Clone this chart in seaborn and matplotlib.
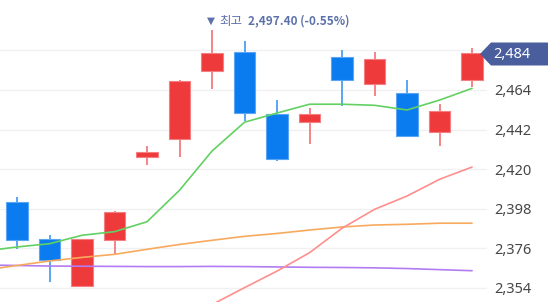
import numpy as np
import pandas as pd
import seaborn as sns
import matplotlib
matplotlib.use("Agg")
import matplotlib.pyplot as plt
from matplotlib.patches import Polygon

# ---- data ----
idx = list(range(15))
opens  = [2401.8, 2381.1, 2355.2, 2380.5, 2426.8, 2436.6, 2474.7, 2485.3, 2450.5, 2446.4, 2482.2, 2467.2, 2462.2, 2440.5, 2469.6]
closes = [2380.7, 2369.4, 2381.1, 2396.2, 2429.6, 2469.2, 2484.7, 2451.1, 2425.7, 2450.5, 2469.6, 2481.1, 2438.6, 2452.3, 2484.4]
highs  = [2404.6, 2383.4, 2381.1, 2396.8, 2432.9, 2469.5, 2497.4, 2491.4, 2458.4, 2453.8, 2486.2, 2485.3, 2469.6, 2456.2, 2487.5]
lows   = [2375.7, 2357.5, 2355.2, 2373.1, 2422.3, 2426.8, 2464.7, 2447.0, 2424.6, 2434.0, 2455.1, 2460.7, 2438.1, 2433.1, 2465.5]

ma_idx = list(range(-1, 15))
ma_green  = [2374.5, 2376.8, 2378.6, 2383.3, 2385.3, 2390.8, 2408.3, 2430.1, 2446.1, 2451.2, 2456.1, 2456.1, 2455.5, 2452.9, 2458.4, 2464.9]
ma_orange = [2364.0, 2366.5, 2369.0, 2371.0, 2372.7, 2375.5, 2378.2, 2380.5, 2382.7, 2384.3, 2386.2, 2387.9, 2389.0, 2389.4, 2390.0, 2390.0]
ma_purple = [2366.8, 2366.5, 2366.2, 2366.1, 2366.0, 2365.9, 2365.9, 2366.0, 2365.9, 2365.7, 2365.5, 2365.4, 2365.2, 2364.8, 2364.2, 2363.6]
ma_salmon = [np.nan]*7 + [2344.8, 2354.2, 2363.4, 2373.6, 2387.2, 2397.7, 2405.1, 2414.4, 2421.2]

y_ticks = [2354, 2376, 2398, 2420, 2442, 2464, 2486]
y_labels = ["2,354", "2,376", "2,398", "2,420", "2,442", "2,464", ""]
last_price = 2484
last_label = "2,484"
high_label = "최고"
high_text = "2,497.40 (-0.55%)"

# ---- style ----
sns.set_theme(style="white")
plt.rcParams['font.family'] = ['Noto Sans', 'DejaVu Sans']

W, H = 548, 302
fig = plt.figure(figsize=(W/100, H/100), dpi=100)
ax = fig.add_axes([0, 0, 487/W, 1])

RED, BLUE = "#EF3A3C", "#0A7CEF"
RED_W, BLUE_W = "#F27C7E", "#4C9FF2"

up = [c >= o for o, c in zip(opens, closes)]
body_col = [RED if u else BLUE for u in up]
wick_col = [RED_W if u else BLUE_W for u in up]
edge_col = ["#F47F80" if u else "#5AA6F4" for u in up]

ax.vlines(idx, lows, highs, colors=wick_col, linewidth=1.3, zorder=2)
ax.bar(idx, [abs(c - o) for o, c in zip(opens, closes)],
       bottom=[min(o, c) for o, c in zip(opens, closes)],
       width=0.65, color=body_col, edgecolor=edge_col, linewidth=0.8, zorder=3)

ma = pd.DataFrame({"i": ma_idx, "green": ma_green, "orange": ma_orange,
                   "purple": ma_purple, "salmon": ma_salmon})
for col, c in [("purple", "#B27CF2"), ("orange", "#F7AA5E"),
               ("salmon", "#FF8E8E"), ("green", "#62D162")]:
    sns.lineplot(data=ma, x="i", y=col, color=c, linewidth=1.2, ax=ax,
                 legend=False, zorder=4)

ax.set_xlim(-0.523, 14.46)
ax.set_ylim(2464 - 212/1.8, 2464 + 90/1.8)
ax.set_yticks(y_ticks)
ax.set_yticklabels(y_labels)
ax.yaxis.tick_right()
ax.tick_params(axis="y", length=0, pad=5, labelsize=10.5, labelcolor="#474747")
ax.set_xticks([])
ax.set_xlabel("")
ax.set_ylabel("")
for s in ax.spines.values():
    s.set_visible(False)
ax.grid(axis="y", color="#F1F1F4", linewidth=1.0, zorder=0)
ax.set_axisbelow(True)

# ---- overlay in pixel coordinates ----
ov = fig.add_axes([0, 0, 1, 1], zorder=10)
ov.set_xlim(0, W)
ov.set_ylim(H, 0)
ov.axis("off")
ov.patch.set_alpha(0)

fig.canvas.draw()
def px(xd, yd):
    d = ax.transData.transform((xd, yd))
    return d[0], H - d[1]

_, yb = px(0, last_price)
badge = Polygon([(480, yb), (491, yb - 11.5), (W, yb - 11.5), (W, yb + 11.5), (491, yb + 11.5)],
                closed=True, facecolor="#4A5E9D", edgecolor="none")
ov.add_patch(badge)
ov.text(493, yb + 0.5, last_label, color="white", fontsize=10.5, va="center", ha="left")

hx, hy = px(6, highs[6])
ann_col = "#5D71AA"
ov.text(hx - 1, 21, "▼", color=ann_col, fontsize=7.5, va="center", ha="center",
        family=['DejaVu Sans'])
ov.text(hx + 7, 21, high_label, color=ann_col, fontsize=9, va="center", ha="left",
        family=['Noto Sans CJK KR', 'DejaVu Sans'])
ov.text(hx + 36, 21, high_text, color=ann_col, fontsize=8.5, va="center", ha="left",
        fontweight="bold", family=['Noto Sans CJK KR', 'DejaVu Sans'])

fig.savefig("out.png", dpi=100)
